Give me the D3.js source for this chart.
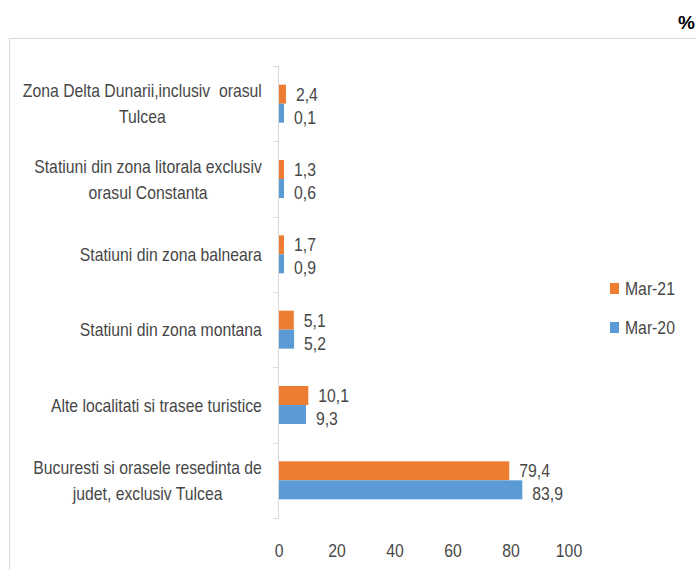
<!DOCTYPE html>
<html>
<head>
<meta charset="utf-8">
<script src="https://cdn.jsdelivr.net/npm/d3@7"></script>
<style>
  body { margin: 0; background: #fff; }
  svg { display: block; }
  text { font-family: "Liberation Sans", Arial, sans-serif; fill: #474747; white-space: pre; }
</style>
</head>
<body>
<div id="chart"></div>
<script>
const categories = [
  ['Zona Delta Dunarii,inclusiv  orasul', 'Tulcea'],
  ['Statiuni din zona litorala exclusiv', 'orasul Constanta'],
  ['Statiuni din zona balneara'],
  ['Statiuni din zona montana'],
  ['Alte localitati si trasee turistice'],
  ['Bucuresti si orasele resedinta de', 'judet, exclusiv Tulcea']
];
const seriesNames = ['Mar-21', 'Mar-20'];
const mar21 = [2.4, 1.3, 1.7, 5.1, 10.1, 79.4];
const mar20 = [0.1, 0.6, 0.9, 5.2, 9.3, 83.9];
const xTicks = [0, 20, 40, 60, 80, 100];
const colors = ['#ED7D31', '#5B9BD5'];

const width = 696, height = 570;
const sx = 0.83; // narrow the font horizontally, like Calibri
const fs = '19px';

const svg = d3.select('#chart').append('svg')
  .attr('width', width).attr('height', height);

function label(sel, tx, ty) {
  return sel.attr('transform', (d, i) => `translate(${tx(d, i)},${ty(d, i)}) scale(${sx},1)`);
}

// outer chart frame
svg.append('rect')
  .attr('x', 9.5).attr('y', 38.5)
  .attr('width', 690).attr('height', 560)
  .attr('fill', 'none').attr('stroke', '#d9d9d9');

svg.append('text')
  .attr('x', 695).attr('y', 29)
  .attr('text-anchor', 'end')
  .style('font-weight', 'bold').style('font-size', '19px')
  .style('fill', '#000')
  .text('%');

const x = d3.scaleLinear().domain([0, 100]).range([279, 569]);
const y = d3.scaleBand().domain(d3.range(categories.length)).range([66, 518]);
const inner = d3.scaleBand().domain([0, 1]).range([0, 38]);

// y axis line with ticks
const yAxis = svg.append('g');
yAxis.append('line')
  .attr('x1', 278.5).attr('x2', 278.5)
  .attr('y1', y.range()[0]).attr('y2', y.range()[1])
  .attr('stroke', '#d9d9d9');
const bounds = d3.range(categories.length + 1).map(i => i < categories.length ? y(i) : y.range()[1]);
yAxis.selectAll('line.tick').data(bounds).enter().append('line')
  .attr('class', 'tick')
  .attr('x1', 273).attr('x2', 278.5)
  .attr('y1', d => Math.round(d) + 0.5).attr('y2', d => Math.round(d) + 0.5)
  .attr('stroke', '#d9d9d9');

// category labels, multi-line ones centred in a right-aligned block
const labelRight = 262;
const lineH = 26;
categories.forEach((lines, i) => {
  const g = svg.append('g');
  const texts = g.selectAll('text').data(lines).enter().append('text')
    .style('font-size', fs)
    .attr('dominant-baseline', 'central')
    .attr('text-anchor', 'middle')
    .text(d => d);
  const maxW = d3.max(texts.nodes(), n => n.getComputedTextLength()) * sx;
  label(texts, () => labelRight - maxW / 2,
    (d, j) => y(i) + y.bandwidth() / 2 + (j - (lines.length - 1) / 2) * lineH);
});

// bars
const data = [mar21, mar20];
const labelShift = [0, 4];
const barGroup = svg.append('g');
data.forEach((vals, s) => {
  const off = y.bandwidth() / 2 - 19;
  barGroup.selectAll('rect.s' + s).data(vals).enter().append('rect')
    .attr('class', 's' + s)
    .attr('x', x(0))
    .attr('y', (d, i) => y(i) + off + inner(s))
    .attr('width', d => Math.max(x(d) - x(0), 5))
    .attr('height', inner.bandwidth())
    .attr('fill', colors[s]);
  const t = barGroup.selectAll('text.s' + s).data(vals).enter().append('text')
    .attr('class', 's' + s)
    .style('font-size', fs)
    .attr('dominant-baseline', 'central')
    .text(d => d.toFixed(1).replace('.', ','));
  label(t, d => Math.max(x(d), x(0) + 5) + 10,
    (d, i) => y(i) + off + inner(s) + inner.bandwidth() / 2 + labelShift[s]);
});

// x tick labels
const xt = svg.append('g').selectAll('text').data(xTicks).enter().append('text')
  .style('font-size', fs)
  .attr('text-anchor', 'middle')
  .text(d => d);
label(xt, d => x(d), () => 557);

// legend
const legend = svg.append('g');
seriesNames.forEach((name, s) => {
  const ly = 288 + s * 39;
  legend.append('rect')
    .attr('x', 610).attr('y', ly - 5)
    .attr('width', 9).attr('height', 11)
    .attr('fill', colors[s]);
  const t = legend.append('text')
    .style('font-size', fs)
    .attr('dominant-baseline', 'central')
    .text(name);
  label(t, () => 625, () => ly);
});
</script>
</body>
</html>
